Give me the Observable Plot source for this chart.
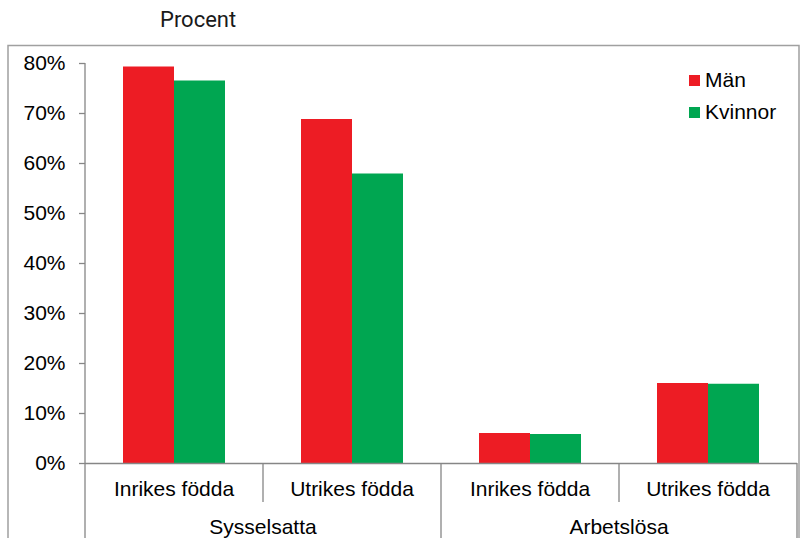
<!DOCTYPE html>
<html>
<head>
<meta charset="utf-8">
<script src="https://cdn.jsdelivr.net/npm/d3@7"></script>
<script src="https://cdn.jsdelivr.net/npm/@observablehq/plot@0.6"></script>
<style>
  html, body { margin: 0; padding: 0; background: #fff; }
  #chart { width: 800px; height: 538px; overflow: hidden; }
</style>
</head>
<body>
<div id="chart"></div>
<script>
// ---- data ----
const categories = ["Inrikes födda", "Utrikes födda", "Inrikes födda", "Utrikes födda"];
const groups = ["Sysselsatta", "Sysselsatta", "Arbetslösa", "Arbetslösa"];
const groupNames = ["Sysselsatta", "Arbetslösa"];
const series = ["Män", "Kvinnor"];
const manValues = [79.3, 68.8, 6.0, 16.0];
const kvinnorValues = [76.5, 57.9, 5.8, 15.85];
const yTicks = [0, 10, 20, 30, 40, 50, 60, 70, 80];
const colors = ["#ED1C24", "#00A651"];
const yLabel = "Procent";

const keys = categories.map((c, i) => groups[i] + " | " + c);
const data = keys.flatMap((k, i) => [
  {key: k, group: groups[i], cat: categories[i], sex: series[0], value: manValues[i]},
  {key: k, group: groups[i], cat: categories[i], sex: series[1], value: kvinnorValues[i]}
]);

const FONT = "'Liberation Sans', Arial, sans-serif";
const AXIS = "#868686";

const chart = Plot.plot({
  width: 800,
  height: 538,
  marginLeft: 85,
  marginRight: 3,
  marginTop: 63,
  marginBottom: 75,
  style: {fontFamily: FONT, fontSize: "21px", color: "#000", background: "#fff", overflow: "visible"},
  fx: {domain: keys, padding: 0, axis: null},
  x: {domain: series, paddingInner: 0, paddingOuter: 0.745, axis: null},
  y: {domain: [0, 80], axis: null},
  color: {domain: series, range: colors},
  marks: [
    Plot.barY(data, {fx: "key", x: "sex", y: "value", fill: "sex"}),
    Plot.axisY({ticks: yTicks, tickSize: 6, tickPadding: 14, tickFormat: d => d + "%",
      stroke: AXIS, strokeWidth: 1.3, fill: "#000", fontSize: 21, label: null}),
    Plot.ruleY([0], {stroke: AXIS, strokeWidth: 1.3})
  ]
});

document.getElementById("chart").appendChild(chart);

// ---- overlay: category axis structure, labels, legend, frame, title ----
const svg = d3.select(chart);
const fx = chart.scale("fx");
const y = chart.scale("y");
const y0 = y.apply(0);
const yTop = y.apply(80);
const bw = fx.bandwidth;
const g = svg.append("g").attr("text-anchor", "start");

// outer frame
g.append("path")
  .attr("d", "M8,540 V45.5 H799 V540")
  .attr("fill", "none").attr("stroke", "#a0a0a0").attr("stroke-width", 1.5);

// y axis line, extended down through category axis
const left = fx.apply(keys[0]);
g.append("line").attr("x1", left).attr("x2", left).attr("y1", yTop).attr("y2", 540)
  .attr("stroke", AXIS).attr("stroke-width", 1.3);

// separators and category labels
keys.forEach((k, i) => {
  const xr = fx.apply(k) + bw;
  const isGroupEnd = (i === keys.length - 1) || groups[i] !== groups[i + 1];
  g.append("line").attr("x1", xr).attr("x2", xr).attr("y1", y0)
    .attr("y2", isGroupEnd ? 540 : y0 + 39)
    .attr("stroke", AXIS).attr("stroke-width", 1.3);
  g.append("text").attr("x", fx.apply(k) + bw / 2).attr("y", y0 + 33)
    .attr("text-anchor", "middle").attr("font-family", FONT).attr("font-size", 21)
    .attr("fill", "#000").text(categories[i]);
});

// group labels
groupNames.forEach(gn => {
  const ks = keys.filter((k, i) => groups[i] === gn);
  const x1 = fx.apply(ks[0]);
  const x2 = fx.apply(ks[ks.length - 1]) + bw;
  g.append("text").attr("x", (x1 + x2) / 2).attr("y", y0 + 71)
    .attr("text-anchor", "middle").attr("font-family", FONT).attr("font-size", 21)
    .attr("fill", "#000").text(gn);
});

// legend
const color = chart.scale("color");
series.forEach((s, i) => {
  const by = 87 + i * 32;
  g.append("rect").attr("x", 689).attr("y", by - 12).attr("width", 11).attr("height", 11)
    .attr("fill", color.apply(s));
  g.append("text").attr("x", 705).attr("y", by).attr("text-anchor", "start")
    .attr("font-family", FONT).attr("font-size", 21)
    .attr("fill", "#000").text(s);
});

// title
g.append("text").attr("x", 160).attr("y", 27).attr("text-anchor", "start")
  .attr("font-family", "Roboto, 'Liberation Sans', sans-serif")
  .attr("font-size", 22).attr("fill", "#1a1a1a").text(yLabel);
</script>
</body>
</html>
